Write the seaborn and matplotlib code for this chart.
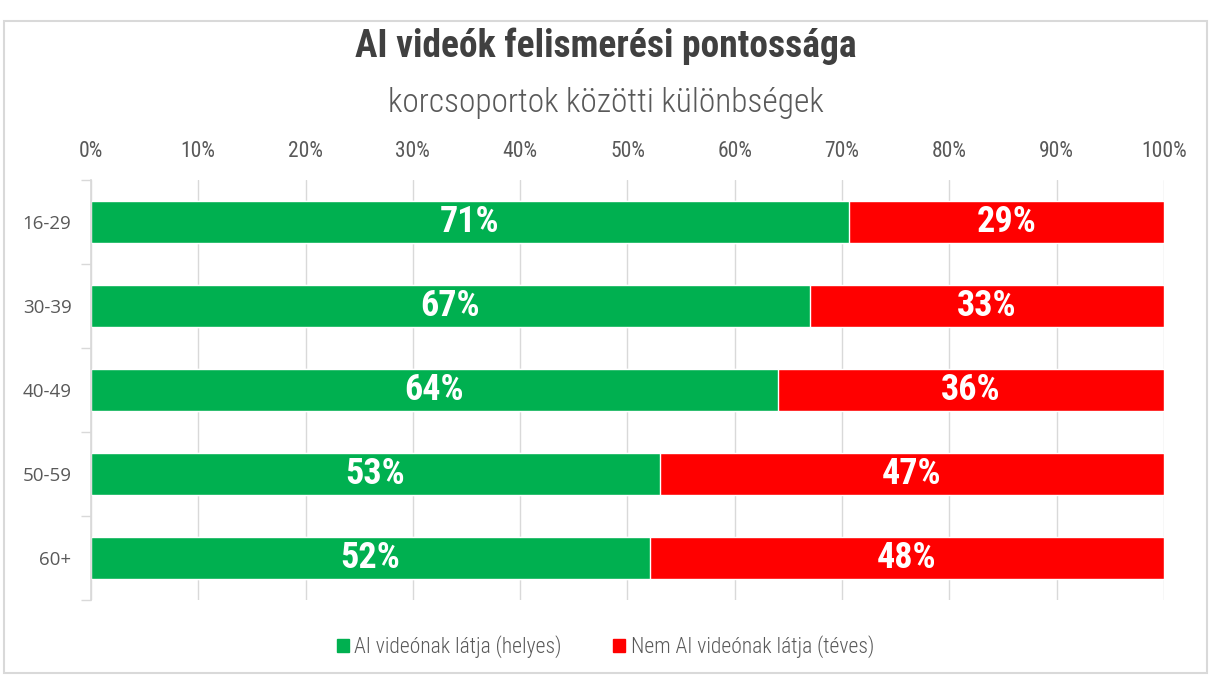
import matplotlib
matplotlib.use("Agg")
import matplotlib.pyplot as plt
import seaborn as sns
import pandas as pd
from matplotlib.ticker import PercentFormatter, FixedLocator
from matplotlib.patches import Rectangle, Patch

# data
age_groups = ["16-29", "30-39", "40-49", "50-59", "60+"]
correct = [70.6, 67.0, 64.0, 53.0, 52.1]   # AI videónak látja (helyes)
wrong = [29.4, 33.0, 36.0, 47.0, 47.9]     # Nem AI videónak látja (téves)
series_names = ["AI videónak látja (helyes)", "Nem AI videónak látja (téves)"]
x_ticks = [0, 10, 20, 30, 40, 50, 60, 70, 80, 90, 100]

GREEN = "#00b050"
RED = "#ff0000"
NARROW = ["Roboto Condensed", "DejaVu Sans"]

sns.set_theme(style="white")
plt.rcParams["font.family"] = ["Open Sans", "DejaVu Sans"]

df = pd.DataFrame({"group": age_groups, "correct": correct, "wrong": wrong})
df["total"] = df["correct"] + df["wrong"]

fig = plt.figure(figsize=(12.11, 6.75), dpi=100)
ax = fig.add_axes([0.0751, 0.1111, 0.8861, 0.6222])

# red = full stack, green drawn over it from 0
sns.barplot(data=df, x="total", y="group", color=RED, width=0.5, saturation=1,
            orient="h", ax=ax, zorder=2)
sns.barplot(data=df, x="correct", y="group", color=GREEN, width=0.5, saturation=1,
            orient="h", ax=ax, zorder=3)

ax.set_xlim(0, 100)
ax.set_ylim(4.5, -0.5)
ax.set_xlabel("")
ax.set_ylabel("")
ax.xaxis.set_major_locator(FixedLocator(x_ticks))
ax.xaxis.set_major_formatter(PercentFormatter(decimals=0))
ax.xaxis.tick_top()
ax.tick_params(axis="x", length=0, pad=13, labelcolor="#595959")
ax.tick_params(axis="y", which="major", length=0, pad=14, labelcolor="#595959")
ax.set_yticks([i - 0.5 for i in range(len(age_groups) + 1)], minor=True)
ax.tick_params(axis="y", which="minor", length=7, width=1, color="#d9d9d9", left=True)
ax.grid(axis="x", color="#d9d9d9", linewidth=1, zorder=0)
ax.set_axisbelow(True)
for s in ["top", "right", "bottom"]:
    ax.spines[s].set_visible(False)
ax.spines["left"].set_color("#d9d9d9")
ax.spines["left"].set_zorder(4)

for lbl in ax.get_xticklabels():
    lbl.set_family(NARROW)
    lbl.set_stretch("condensed")
    lbl.set_fontsize(15.5)
for lbl in ax.get_yticklabels():
    lbl.set_fontsize(13.5)

# value labels
for i in range(len(age_groups)):
    ax.text(correct[i] / 2, i, f"{correct[i]:.0f}%", ha="center", va="center",
            color="white", fontsize=26, fontweight="bold", family=NARROW,
            fontstretch="condensed", zorder=5)
    ax.text(correct[i] + wrong[i] / 2, i, f"{wrong[i]:.0f}%", ha="center", va="center",
            color="white", fontsize=26, fontweight="bold", family=NARROW,
            fontstretch="condensed", zorder=5)

fig.text(0.5, 0.932, "AI videók felismerési pontossága", ha="center", va="center",
         fontsize=27, fontweight="bold", color="#404040", family=NARROW,
         fontstretch="condensed")
fig.text(0.5, 0.847, "korcsoportok közötti különbségek", ha="center", va="center",
         fontsize=24, fontweight="light", color="#595959", family=NARROW,
         fontstretch="condensed")

handles = [Patch(color=GREEN), Patch(color=RED)]
leg = fig.legend(handles, series_names, loc="center", bbox_to_anchor=(0.5, 0.042),
                 ncol=2, frameon=False, handlelength=0.55, handleheight=0.55,
                 handletextpad=0.25, columnspacing=2.4,
                 prop={"family": NARROW, "size": 15.5, "stretch": "condensed",
                       "weight": "light"})
for t in leg.get_texts():
    t.set_color("#595959")

fig.patches.append(Rectangle((0.003, 0.003), 0.994, 0.966, transform=fig.transFigure,
                             fill=False, edgecolor="#d9d9d9", linewidth=1.5))

fig.savefig("out.png", dpi=100, facecolor="white")
